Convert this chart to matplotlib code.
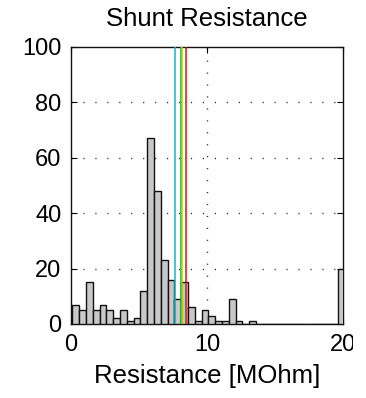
import matplotlib
matplotlib.use("Agg")
import matplotlib.pyplot as plt
from matplotlib.patches import Rectangle
import numpy as np

plt.rcParams["font.family"] = ["Liberation Sans", "DejaVu Sans"]

# histogram of shunt resistance, 0.5 MOhm bins starting at 0.1 MOhm
bin_start = 0.1
bin_width = 0.5
counts = [7, 5, 15, 5, 7, 5, 2, 5, 1, 2,
          12, 67, 48, 23, 16, 9, 15, 6, 1, 5,
          3, 1, 1, 9, 1, 0, 1, 0, 0, 0,
          0, 0, 0, 0, 0, 0, 0, 0, 0, 20]

# reference markers (MOhm)
marker_values = [7.65, 8.07, 8.2, 8.49]
marker_colors = ["#19b4c4", "#22a82a", "#b8cc00", "#d01818"]

xticks = [0, 10, 20]
yticks = [0, 20, 40, 60, 80, 100]

fig = plt.figure(figsize=(3.66, 3.98), dpi=100)
ax = fig.add_axes([0.194, 0.186, 0.743, 0.696])

left_edges = bin_start + bin_width * np.arange(len(counts))
ax.bar(left_edges, counts, width=bin_width, align="edge",
       facecolor="#c8c8c8", edgecolor="#111111", linewidth=1.0, zorder=3)

for v, c in zip(marker_values, marker_colors):
    ax.axvline(v, color=c, linewidth=1.1, zorder=4)

ax.set_xlim(0, 20)
ax.set_ylim(0, 100)
ax.set_xticks(xticks)
ax.set_yticks(yticks)

for y in yticks[1:-1]:
    ax.axhline(y, color="#222222", linewidth=1.0, dashes=(0.8, 7.8), zorder=1)
ax.axvline(10, color="#222222", linewidth=1.0, dashes=(0.8, 7.8), zorder=1)

ax.tick_params(direction="in", length=4, width=0.8, labelsize=17,
               top=True, right=True, pad=7)
for s in ax.spines.values():
    s.set_linewidth(1.0)
    s.set_color("#111111")

ax.set_title("Shunt Resistance", fontsize=18.5, pad=15)
ax.set_xlabel("Resistance [MOhm]", fontsize=18.5, labelpad=6)
ax.set_ylabel("Counts", fontsize=18.5, labelpad=12.5)

# right edge of the panel is cut off
fig.patches.append(Rectangle((0.9645, 0), 0.05, 1, transform=fig.transFigure,
                             facecolor="white", edgecolor="none", zorder=10))

fig.savefig("out.png", dpi=100)
